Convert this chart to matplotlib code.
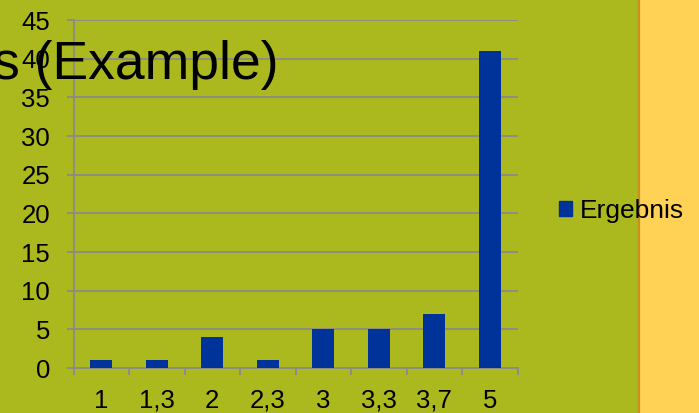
import matplotlib
matplotlib.use("Agg")
import matplotlib.pyplot as plt
from matplotlib.lines import Line2D
import numpy as np

plt.rcParams['font.family'] = ['Liberation Sans', 'DejaVu Sans']

categories = ["1", "1,3", "2", "2,3", "3", "3,3", "3,7", "5"]
values = [1, 1, 4, 1, 5, 5, 7, 41]
series_name = "Ergebnis"
y_ticks = [0, 5, 10, 15, 20, 25, 30, 35, 40, 45]

W, H = 699, 413
bg = "#ABB81E"
strip = "#FFD154"
bar_color = "#003399"
grid_color = "#8A8A8A"

fig = plt.figure(figsize=(W / 100, H / 100), dpi=100, facecolor=bg)

# yellow side panel with darker edge
fig.patches.append(plt.Rectangle((639 / W, 0), 1 - 639 / W, 1, transform=fig.transFigure,
                                 facecolor=strip, edgecolor="none", zorder=0))
fig.lines.append(Line2D([638.5 / W, 638.5 / W], [0, 1], transform=fig.transFigure,
                        color="#C8921A", linewidth=1.6, zorder=1))

ax = fig.add_axes([73.5 / W, (H - 368) / H, (517.5 - 73.5) / W, (368 - 20) / H])
ax.set_facecolor("none")

x = np.arange(len(categories))
ax.bar(x, values, width=0.4, color=bar_color, zorder=3)

ax.set_xlim(-0.5, len(categories) - 0.5)
ax.set_ylim(0, 45)
ax.set_yticks(y_ticks)
ax.set_yticklabels([str(v) for v in y_ticks], fontsize=18.5)
ax.yaxis.grid(True, color=grid_color, linewidth=1.3, zorder=1)
ax.set_axisbelow(True)

ax.set_xticks(x)
ax.set_xticklabels(categories, fontsize=18.5)
ax.set_xticks(np.arange(-0.5, len(categories), 1), minor=True)
ax.tick_params(axis='x', which='major', length=0, pad=15)
ax.tick_params(axis='x', which='minor', length=5, width=1.3, color=grid_color)
ax.tick_params(axis='y', length=5, width=1.3, color=grid_color, pad=12)

for side in ("top", "right"):
    ax.spines[side].set_visible(False)
for side in ("left", "bottom"):
    ax.spines[side].set_color(grid_color)
    ax.spines[side].set_linewidth(1.3)

# legend
leg = fig.legend([plt.Rectangle((0, 0), 1, 1, color=bar_color)], [series_name],
                 loc="center left", bbox_to_anchor=(546 / W, 1 - 211 / H),
                 frameon=False, fontsize=19, handlelength=0.5, handleheight=0.5,
                 handletextpad=0.3, borderpad=0)

fig.text(279 / W, 1 - 79 / H, "s (Example)", ha="right", va="baseline",
         fontsize=38.5, color="black", zorder=5)

fig.savefig("out.png", dpi=100, facecolor=bg)
